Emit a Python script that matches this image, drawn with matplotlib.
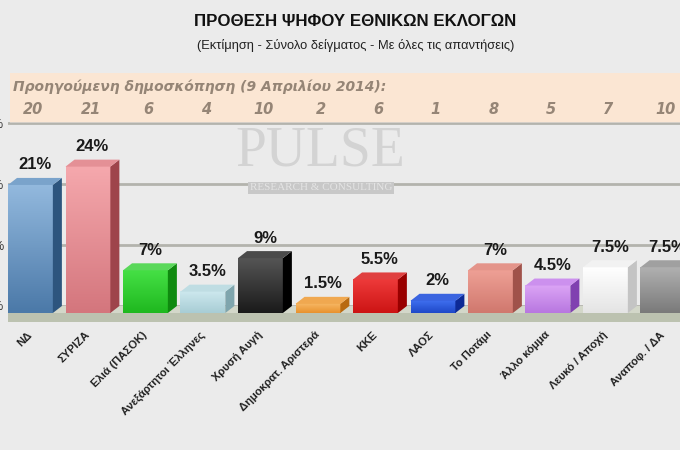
import matplotlib
matplotlib.use('Agg')
import matplotlib.pyplot as plt
import numpy as np
from matplotlib.patches import Polygon, Rectangle
from matplotlib.colors import to_rgb

parties = ['ΝΔ', 'ΣΥΡΙΖΑ', 'Ελιά (ΠΑΣΟΚ)', 'Ανεξάρτητοι Έλληνες', 'Χρυσή Αυγή',
           'Δημοκρατ. Αριστερά', 'ΚΚΕ', 'ΛΑΟΣ', 'Το Ποτάμι', 'Άλλο κόμμα',
           'Λευκό / Αποχή', 'Αναποφ. / ΔΑ']
values = [21, 24, 7, 3.5, 9, 1.5, 5.5, 2, 7, 4.5, 7.5, 7.5]
previous = [20, 21, 6, 4, 10, 2, 6, 1, 8, 5, 7, 10]
ytick_labels = ['0%', '10%', '20%', '30%']

# front top, front bottom, side, top face
bar_colors = [
    ('#93b9de', '#4b79a8', '#2d557e', '#7aa3cb'),
    ('#f5a8ad', '#d4767d', '#9e444b', '#e49096'),
    ('#45e045', '#1fb81f', '#0f8a0f', '#5ad85a'),
    ('#cde8ee', '#a8cdd5', '#7fa5ad', '#bfdde3'),
    ('#555555', '#1a1a1a', '#000000', '#4a4a4a'),
    ('#f7b865', '#e8922e', '#b86a10', '#f0a850'),
    ('#ee3a3a', '#cc1414', '#990000', '#e04040'),
    ('#4070f0', '#1e48c8', '#0d2a96', '#3a64e0'),
    ('#eea095', '#d0786e', '#a0524a', '#e4948a'),
    ('#dba4f5', '#b877e0', '#8040b0', '#cc90ee'),
    ('#ffffff', '#e4e4e4', '#c4c4c4', '#f2f2f2'),
    ('#b0b0b0', '#7a7a7a', '#585858', '#a0a0a0'),
]

bg = '#ebebeb'
plt.rcParams['font.family'] = ['Liberation Sans', 'DejaVu Sans']

fig = plt.figure(figsize=(6.8, 4.5), dpi=100, facecolor=bg)
ax = fig.add_axes([8 / 680, 1 - 322.15 / 450, 692 / 680, 201.25 / 450], facecolor=bg)

w = 0.78
dx = 0.157
dy = 1.15
x = np.arange(len(values))

# floor
ax.axhspan(0, dy, color='#d3d7c9', zorder=1, lw=0)
ax.axhspan(-1.5, 0, color='#bcc2b0', zorder=1, lw=0)

for i, v in enumerate(values):
    c_top, c_bot, c_side, c_cap = bar_colors[i]
    x0, x1 = i - w / 2, i + w / 2
    grad = np.linspace(0, 1, 64)[:, None, None]
    img = (1 - grad) * np.array(to_rgb(c_top)) + grad * np.array(to_rgb(c_bot))
    ax.imshow(img, extent=[x0, x1, 0, v], aspect='auto', origin='upper',
              interpolation='bilinear', zorder=3)
    ax.add_patch(Polygon([(x1, 0), (x1 + dx, dy), (x1 + dx, v + dy), (x1, v)],
                         closed=True, facecolor=c_side, edgecolor='none', zorder=3))
    ax.add_patch(Polygon([(x0, v), (x1, v), (x1 + dx, v + dy), (x0 + dx, v + dy)],
                         closed=True, facecolor=c_cap, edgecolor='none', zorder=3))
    ax.text(i + dx / 2, v + dy + 0.9, f'{v:g}%', ha='center', va='bottom',
            fontsize=12, fontweight='bold', color='#1a1a1a', zorder=5)

ax.set_xlim(-0.39, -0.39 + 692 / 57.5)
ax.set_ylim(-1.5, 31.5)
ax.set_yticks([t + dy for t in [0, 10, 20, 30]])
ax.set_yticklabels(ytick_labels, fontsize=9, color='#333333')
ax.set_xticks(x)
ax.set_xticklabels(parties, rotation=45, ha='right', va='center',
                   rotation_mode='anchor', fontsize=8, fontweight='bold', color='#222222')
ax.tick_params(axis='x', length=0, pad=8)
ax.tick_params(axis='y', length=0, pad=3)
ax.grid(axis='y', color='#b3b3ad', linewidth=2, zorder=0)
ax.set_axisbelow(True)
for s in ax.spines.values():
    s.set_visible(False)

# previous poll panel
ax.add_patch(Rectangle((-0.357, 31.1), 13, 0.3, facecolor='#d5cfc8',
                       edgecolor='none', clip_on=False, zorder=6))
ax.add_patch(Rectangle((-0.357, 31.3), 13, 8.0, facecolor='#fbe6d3',
                       edgecolor='none', clip_on=False, zorder=6))
ax.text(-0.31, 37.05, 'Προηγούμενη δημοσκόπηση (9 Απριλίου 2014):', ha='left', va='center',
        fontsize=10, fontweight='bold', fontstyle='italic', color='#958576',
        family=['DejaVu Sans'], zorder=7)
for i, p in enumerate(previous):
    ax.text(i + 0.05, 33.4, str(p), ha='center', va='center', fontsize=10.5,
            fontweight='bold', fontstyle='italic', color='#958576',
            family=['DejaVu Sans'], zorder=7)

# watermark
fig.text(320 / 680, 1 - 152 / 450, 'PULSE', ha='center', va='center', fontsize=40,
         family=['Liberation Serif'], color='#cdcdcd', alpha=0.8)
fig.text(321 / 680, 1 - 188 / 450, 'RESEARCH & CONSULTING', ha='center', va='center',
         fontsize=8, family=['Liberation Serif'], color='#e4e4e4',
         bbox=dict(boxstyle='square,pad=0.15', facecolor='#c8c8c8', edgecolor='none'))

fig.text(355 / 680, 1 - 21 / 450, 'ΠΡΟΘΕΣΗ ΨΗΦΟΥ ΕΘΝΙΚΩΝ ΕΚΛΟΓΩΝ', ha='center', va='center',
         fontsize=12.2, fontweight='bold', color='#111111')
fig.text(356 / 680, 1 - 45 / 450, '(Εκτίμηση - Σύνολο δείγματος - Με όλες τις απαντήσεις)',
         ha='center', va='center', fontsize=9.3, color='#222222')

fig.savefig('out.png', dpi=100, facecolor=bg)
